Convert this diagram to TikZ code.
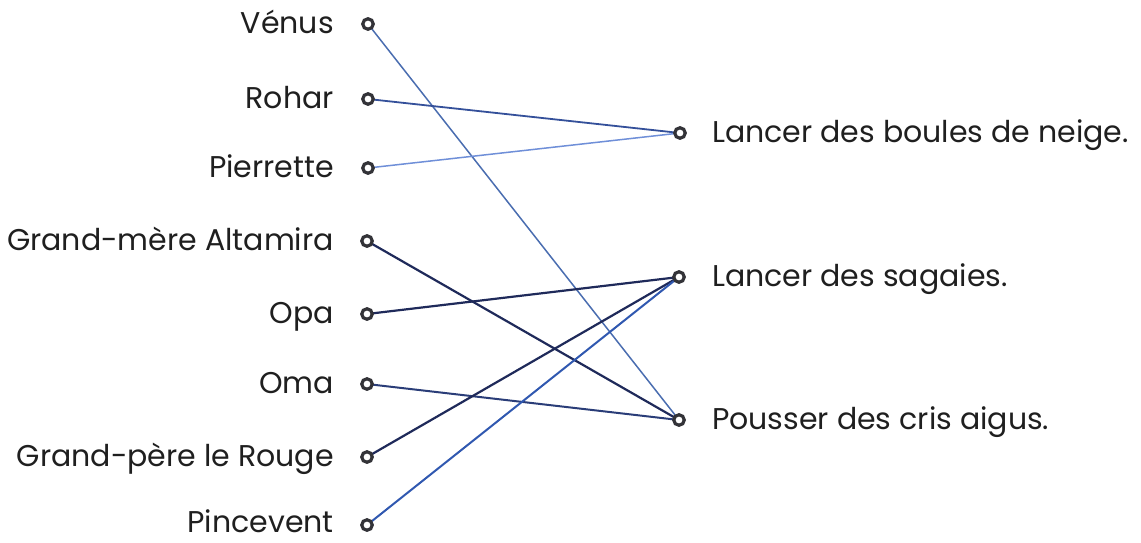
\documentclass[tikz,border=0pt]{standalone}
\usepackage{fontspec}
\setmainfont{Poppins}
\usetikzlibrary{backgrounds}
\definecolor{navy}{HTML}{1F2A5A}
\definecolor{navyb}{HTML}{2A3D78}
\definecolor{blueA}{HTML}{3058B0}
\definecolor{blueB}{HTML}{4A6DB0}
\definecolor{blueC}{HTML}{6F8FD8}
\definecolor{blueD}{HTML}{34509A}
\definecolor{ring}{HTML}{333338}
\begin{document}
\begin{tikzpicture}[x=1pt,y=-1pt,
  dot/.style={circle,draw=ring,line width=3.2pt,minimum size=10.5pt,inner sep=0pt,fill=white},
  lab/.style={font=\fontsize{30}{34}\selectfont,text=black!88,inner sep=0pt},
  link/.style={line width=2pt}]
\useasboundingbox (0,0) rectangle (1141,542);
% left dots
\node[dot] (venus) at (368,24) {};
\node[dot] (rohar) at (368,99) {};
\node[dot] (pierrette) at (368,168) {};
\node[dot] (gma) at (367,241) {};
\node[dot] (opa) at (367,314) {};
\node[dot] (oma) at (367,384) {};
\node[dot] (gpr) at (367,457) {};
\node[dot] (pince) at (367,525) {};
% right dots
\node[dot] (boules) at (680,133) {};
\node[dot] (sagaies) at (679,277) {};
\node[dot] (cris) at (679,420) {};
% left labels
\node[lab,anchor=base east] (tvenus) at (334,33) {Vénus};
\node[lab,anchor=base east] (trohar) at (334,108) {Rohar};
\node[lab,anchor=base east] (tpierrette) at (334,177) {Pierrette};
\node[lab,anchor=base east] (tgma) at (334,250) {Grand-mère Altamira};
\node[lab,anchor=base east] (topa) at (334,323) {Opa};
\node[lab,anchor=base east] (toma) at (334,393) {Oma};
\node[lab,anchor=base east] (tgpr) at (334,466) {Grand-père le Rouge};
\node[lab,anchor=base east] (tpince) at (334,532) {Pincevent};
% right labels
\node[lab,anchor=base west] (tboules) at (712,142) {Lancer des boules de neige.};
\node[lab,anchor=base west] (tsagaies) at (712,286) {Lancer des sagaies.};
\node[lab,anchor=base west] (tcris) at (712,429) {Pousser des cris aigus.};
% links
\begin{scope}[on background layer]
\draw[link,blueB,line width=1.5pt] (venus.center) -- (cris.center);
\draw[link,blueD,line width=1.8pt] (rohar.center) -- (boules.center);
\draw[link,blueC,line width=1.5pt] (pierrette.center) -- (boules.center);
\draw[link,navy,line width=2.2pt] (gma.center) -- (cris.center);
\draw[link,navy,line width=2.2pt] (opa.center) -- (sagaies.center);
\draw[link,navyb] (oma.center) -- (cris.center);
\draw[link,navy,line width=2.2pt] (gpr.center) -- (sagaies.center);
\draw[link,blueA] (pince.center) -- (sagaies.center);
\end{scope}
\end{tikzpicture}
\end{document}
